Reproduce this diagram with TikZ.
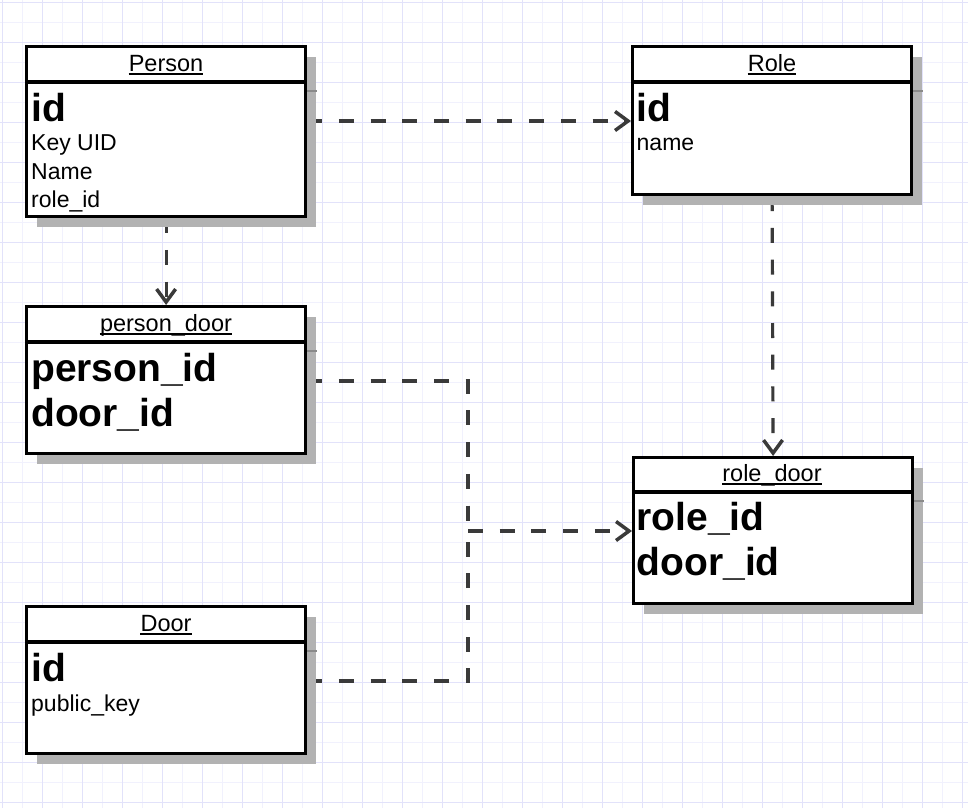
\documentclass[tikz,border=0pt]{standalone}
\usepackage{fontspec}
\setmainfont{Liberation Sans}
\usetikzlibrary{arrows.meta,shadows}
\definecolor{gridA}{HTML}{E2E2FA}
\definecolor{gridB}{HTML}{F1F1FD}
\definecolor{conncol}{HTML}{3A3A3A}
\definecolor{shadowcol}{HTML}{B2B2B2}
\definecolor{shline}{HTML}{8A8A8A}
\begin{document}
\begin{tikzpicture}[x=1pt,y=-1pt,
  tbl/.style={draw=black, line width=3.2pt, fill=white, inner sep=0pt, outer sep=1.6pt,
    minimum width=279pt, anchor=north west,
    drop shadow={shadow xshift=10pt, shadow yshift=-10pt, fill=shadowcol, opacity=1}},
  hdr/.style={draw=black, line width=3.2pt},
  shhdr/.style={draw=shline, line width=1.5pt},
  title/.style={inner sep=0pt, anchor=base, font=\fontsize{23.5}{28}\selectfont},
  fld/.style={inner sep=0pt, anchor=base west, font=\fontsize{23}{28}\selectfont},
  key/.style={inner sep=0pt, anchor=base west, font=\bfseries\fontsize{39}{44}\selectfont},
  uline/.style={draw=black, line width=1.6pt},
  conn/.style={draw=conncol, line width=3.2pt, dash pattern=on 15pt off 16.7pt},
  arr/.style={-{Straight Barb[length=13pt,width=19pt,line width=3.5pt]}}
]
\useasboundingbox (0,0) rectangle (968,808);
\fill[white] (0,0) rectangle (968,808);
% grid
\foreach \x in {22.7,62.7,...,962.7} \draw[gridB,line width=1.3pt] (\x,0) -- (\x,808);
\foreach \y in {22.7,62.7,...,802.7} \draw[gridB,line width=1.3pt] (0,\y) -- (968,\y);
\foreach \x in {2.7,42.7,...,962.7} \draw[gridA,line width=1.3pt] (\x,0) -- (\x,808);
\foreach \y in {2.7,42.7,...,802.7} \draw[gridA,line width=1.3pt] (0,\y) -- (968,\y);

% boxes
\node[tbl, minimum height=170pt] (person) at (25,45) {};
\node[tbl, minimum height=148pt] (role) at (631,45) {};
\node[tbl, minimum height=147pt] (pd) at (25,305) {};
\node[tbl, minimum height=146pt] (rd) at (632,456) {};
\node[tbl, minimum height=147pt] (door) at (25,605) {};

% connectors
\coordinate (j) at (468,531);
\draw[conn,arr] (person.east |- 0,121) -- (role.west |- 0,121);
\draw[conn,arr] (person.south) -- (pd.north);
\draw[conn,arr] (role.south) -- (rd.north);
\draw[conn] (pd.east |- 0,381) -| (j);
\draw[conn] (door.east |- 0,681) -| (j);
\draw[conn,arr] (j) -- (rd.west |- j);

% redraw source boxes on top of connector ends
\node[tbl, minimum height=170pt] at (25,45) {};
\node[tbl, minimum height=148pt] at (631,45) {};
\node[tbl, minimum height=147pt] at (25,305) {};
\node[tbl, minimum height=147pt] at (25,605) {};

% header lines
\draw[hdr] (person.west |- 0,82) -- (person.east |- 0,82);
\draw[hdr] (role.west |- 0,82) -- (role.east |- 0,82);
\draw[hdr] (pd.west |- 0,342) -- (pd.east |- 0,342);
\draw[hdr] (rd.west |- 0,492) -- (rd.east |- 0,492);
\draw[hdr] (door.west |- 0,642) -- (door.east |- 0,642);
\draw[shhdr] (person.east |- 0,91) -- ++(9.5,0);
\draw[shhdr] (role.east |- 0,91) -- ++(9.5,0);
\draw[shhdr] (pd.east |- 0,351) -- ++(9.5,0);
\draw[shhdr] (rd.east |- 0,501) -- ++(9.5,0);
\draw[shhdr] (door.east |- 0,651) -- ++(9.5,0);

% titles
\node[title] (tperson) at (166,71.5) {Person};
\node[title] (trole) at (772,71.5) {Role};
\node[title] (tpd) at (166,331.5) {person\_door};
\node[title] (trd) at (772,481.5) {role\_door};
\node[title] (tdoor) at (166,631.5) {Door};
\foreach \t in {tperson,trole,tpd,trd,tdoor}
  \draw[uline] ([yshift=-2.2pt]\t.base west) -- ([yshift=-2.2pt]\t.base east);

% fields
\node[key] (pid) at (31,121.5) {id};
\node[fld] (pkey) at (31,150.5) {Key UID};
\node[fld] (pname) at (31,179) {Name};
\node[fld] (prole) at (31,207) {role\_id};

\node[key] (rid) at (636.5,121.5) {id};
\node[fld] (rname) at (636.5,150.5) {name};

\node[key] (pdp) at (31,381.5) {person\_id};
\node[key] (pdd) at (31,426) {door\_id};

\node[key] (rdr) at (636.5,530) {role\_id};
\node[key] (rdd) at (636.5,575) {door\_id};

\node[key] (did) at (31,681.5) {id};
\node[fld] (dkey) at (31,711.5) {public\_key};
\end{tikzpicture}
\end{document}
